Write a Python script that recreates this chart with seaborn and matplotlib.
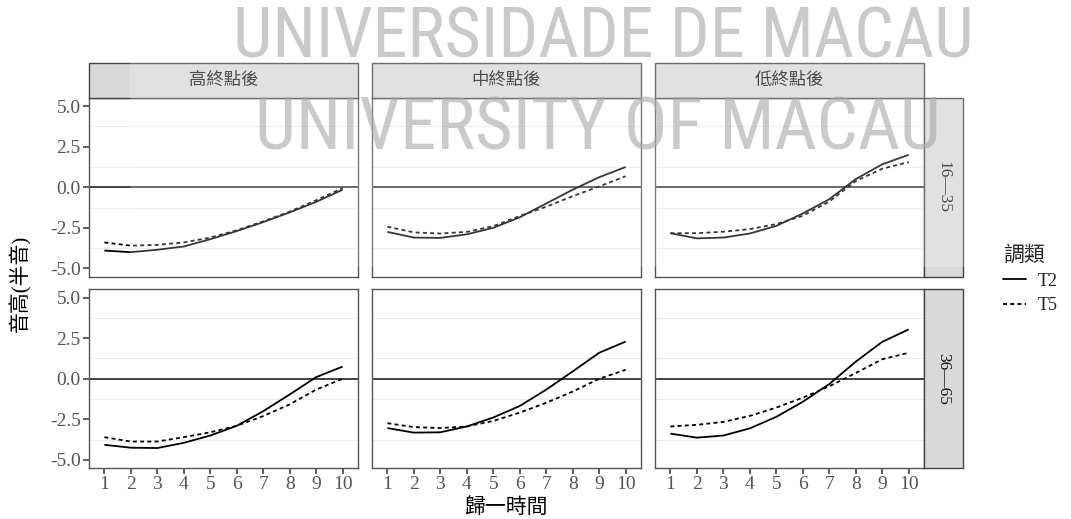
import numpy as np
import pandas as pd
import matplotlib
matplotlib.use("Agg")
import matplotlib.pyplot as plt
from matplotlib.patches import Rectangle
from matplotlib.lines import Line2D
from matplotlib import font_manager
import seaborn as sns

# normalised time points
time_points = list(range(1, 11))
endpoints = ["高終點後", "中終點後", "低終點後"]
age_groups = ["16—35", "36—65"]
tones = ["T2", "T5"]

# pitch (semitones), ages 16—35
t2_young_high = [-3.90, -4.00, -3.85, -3.65, -3.20, -2.70, -2.15, -1.55, -0.90, -0.15]
t5_young_high = [-3.40, -3.60, -3.55, -3.40, -3.10, -2.65, -2.10, -1.50, -0.80, -0.05]
t2_young_mid = [-2.75, -3.10, -3.12, -2.90, -2.50, -1.85, -1.00, -0.15, 0.62, 1.25]
t5_young_mid = [-2.43, -2.78, -2.85, -2.75, -2.40, -1.77, -1.20, -0.55, 0.05, 0.68]
t2_young_low = [-2.83, -3.15, -3.10, -2.85, -2.38, -1.62, -0.74, 0.50, 1.41, 2.00]
t5_young_low = [-2.83, -2.83, -2.74, -2.58, -2.27, -1.76, -0.88, 0.38, 1.14, 1.55]

# pitch (semitones), ages 36—65
t2_old_high = [-4.07, -4.25, -4.27, -3.95, -3.50, -2.90, -2.00, -0.97, 0.10, 0.75]
t5_old_high = [-3.60, -3.87, -3.87, -3.60, -3.30, -2.90, -2.30, -1.58, -0.67, 0.00]
t2_old_mid = [-3.04, -3.32, -3.30, -2.94, -2.39, -1.68, -0.67, 0.45, 1.60, 2.29]
t5_old_mid = [-2.74, -2.98, -3.04, -2.94, -2.60, -2.09, -1.48, -0.79, 0.00, 0.55]
t2_old_low = [-3.38, -3.63, -3.50, -3.06, -2.35, -1.42, -0.33, 1.05, 2.27, 3.04]
t5_old_low = [-2.94, -2.84, -2.66, -2.29, -1.78, -1.17, -0.47, 0.35, 1.20, 1.60]

series = {
    ("16—35", "高終點後", "T2"): t2_young_high,
    ("16—35", "高終點後", "T5"): t5_young_high,
    ("16—35", "中終點後", "T2"): t2_young_mid,
    ("16—35", "中終點後", "T5"): t5_young_mid,
    ("16—35", "低終點後", "T2"): t2_young_low,
    ("16—35", "低終點後", "T5"): t5_young_low,
    ("36—65", "高終點後", "T2"): t2_old_high,
    ("36—65", "高終點後", "T5"): t5_old_high,
    ("36—65", "中終點後", "T2"): t2_old_mid,
    ("36—65", "中終點後", "T5"): t5_old_mid,
    ("36—65", "低終點後", "T2"): t2_old_low,
    ("36—65", "低終點後", "T5"): t5_old_low,
}
rows = []
for (age, ep, tone), vals in series.items():
    for t, v in zip(time_points, vals):
        rows.append({"age": age, "endpoint": ep, "tone": tone, "time": t, "pitch": v})
df = pd.DataFrame(rows)

sns.set_theme(style="white")
plt.rcParams["font.family"] = ["Liberation Serif", "Noto Sans CJK TC"]
plt.rcParams["axes.unicode_minus"] = False

W, H = 1071, 519
g = sns.FacetGrid(df, row="age", col="endpoint", row_order=age_groups,
                  col_order=endpoints, sharex=True, sharey=True, despine=False,
                  height=2.5, aspect=1.4)
g.map_dataframe(sns.lineplot, x="time", y="pitch", style="tone",
                style_order=tones, color="black", linewidth=1.3,
                dashes={"T2": (1, 0), "T5": (2.2, 1.8)})
fig = g.figure
fig.set_size_inches(W / 100, H / 100)
fig.subplots_adjust(left=89 / W, right=924 / W, top=1 - 98 / H, bottom=1 - 468 / H,
                    wspace=14 / 269, hspace=13 / 179)
g.set_titles("")
g.set_axis_labels("", "")

yt = [-5.0, -2.5, 0.0, 2.5, 5.0]
for i in range(2):
    for j in range(3):
        ax = g.axes[i, j]
        ax.set_xlim(0.42, 10.58)
        ax.set_ylim(-5.5, 5.5)
        for m in (-3.75, -1.25, 1.25, 3.75):
            ax.axhline(m, color="#ececec", lw=0.8, zorder=0)
        ax.axhline(0, color="#222222", lw=1.2, zorder=1)
        ax.set_xticks(time_points)
        ax.set_yticks(yt)
        ax.set_yticklabels([f"{v:.1f}" for v in yt])
        ax.tick_params(axis="both", which="both", length=4, width=1.1,
                       color="#333333", labelcolor="#555555", labelsize=14,
                       pad=2, left=(j == 0), bottom=(i == 1),
                       labelleft=(j == 0), labelbottom=(i == 1))
        for s in ax.spines.values():
            s.set_color("#555555")
            s.set_linewidth(1.0)
        if ax.get_legend() is not None:
            ax.get_legend().remove()

# facet strips
strip_h = 35 / H
strip_w = 39 / W
for j, ep in enumerate(endpoints):
    p = g.axes[0, j].get_position()
    fig.add_artist(Rectangle((p.x0, p.y1), p.width, strip_h, transform=fig.transFigure,
                             facecolor="#d9d9d9", edgecolor="#444444", lw=1.0))
    fig.text(p.x0 + p.width / 2, p.y1 + strip_h / 2, ep, ha="center", va="center",
             fontsize=12.5, color="#1a1a1a")
for i, age in enumerate(age_groups):
    p = g.axes[i, 2].get_position()
    fig.add_artist(Rectangle((p.x1, p.y0), strip_w, p.height, transform=fig.transFigure,
                             facecolor="#d9d9d9", edgecolor="#444444", lw=1.0))
    fig.text(p.x1 + strip_w / 2, p.y0 + p.height / 2, age, ha="center", va="center",
             rotation=-90, fontsize=12.5, color="#1a1a1a")

# axis titles
p_tl = g.axes[0, 0].get_position()
p_br = g.axes[1, 2].get_position()
fig.text((p_tl.x0 + p_br.x1) / 2, 1 - 508 / H, "歸一時間", ha="center", va="center",
         fontsize=15, color="black")
fig.text(20 / W, (p_tl.y1 + p_br.y0) / 2, "音高(半音)", ha="center", va="center",
         rotation=90, fontsize=15, color="black")

# legend
handles = [Line2D([0], [0], color="black", lw=1.3, linestyle="-"),
           Line2D([0], [0], color="black", lw=1.3, linestyle=(0, (2.2, 1.8)))]
leg = fig.legend(handles, tones, title="調類", loc="center left",
                 bbox_to_anchor=(1003 / W, 1 - 280 / H), frameon=False,
                 borderaxespad=0, borderpad=0,
                 fontsize=13, title_fontsize=15, handlelength=1.3,
                 handletextpad=0.6, labelspacing=0.4)
leg._legend_box.align = "left"

# watermark: prefer a condensed face when one is installed
available = {f.name for f in font_manager.fontManager.ttflist}
condensed = [n for n in ("Roboto Condensed", "Liberation Sans Narrow",
                         "Open Sans Condensed", "DejaVu Sans Condensed")
             if n in available]
if condensed:
    wm_font, size1, size2 = [condensed[0]], 50.5, 52.5
else:
    wm_font, size1, size2 = ["Liberation Sans"], 41, 42

fig.add_artist(Rectangle((130 / W, 1 - 267 / H), 860 / W, 267 / H,
                         transform=fig.transFigure, facecolor="white",
                         alpha=0.22, edgecolor="none", zorder=10))
fig.text(603 / W, 1 - 58 / H, "UNIVERSIDADE DE MACAU", ha="center", va="baseline",
         fontsize=size1, family=wm_font, color="#a8a8a8", alpha=0.6, zorder=11)
fig.text(598 / W, 1 - 150 / H, "UNIVERSITY OF MACAU", ha="center", va="baseline",
         fontsize=size2, family=wm_font, color="#a8a8a8", alpha=0.6, zorder=11)

fig.savefig("out.png", dpi=100)
